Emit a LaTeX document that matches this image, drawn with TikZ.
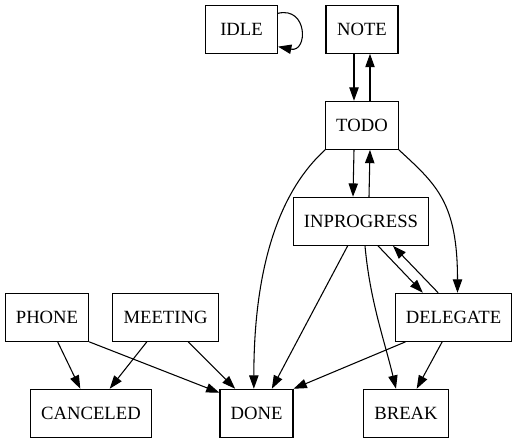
\documentclass[tikz,border=0pt]{standalone}
\usepackage{fontspec}
\setmainfont{Liberation Serif}
\usepackage{tikz}
\usetikzlibrary{arrows.meta}

\begin{document}
\begin{tikzpicture}[x=0.75pt, y=-0.75pt,
    state/.style={draw, rectangle, line width=0.8pt, minimum width=54pt,
      minimum height=36pt, inner xsep=7.92pt, font=\fontsize{14}{16}\selectfont},
    trans/.style={-{Triangle[length=10pt,width=7pt]}, line width=0.8pt}]
  \useasboundingbox (0,0) rectangle (518,443);
  \node[state] (idle)       at (241.5,29.3) {IDLE};
  \node[state] (note)       at (362,29.3)   {NOTE};
  \node[state] (todo)       at (362,125.3)  {TODO};
  \node[state] (inprogress) at (361,221.3)  {INPROGRESS};
  \node[state] (phone)      at (47,317.3)   {PHONE};
  \node[state] (meeting)    at (165.5,317.3) {MEETING};
  \node[state] (delegate)   at (453.5,317.3) {DELEGATE};
  \node[state] (canceled)   at (91,413.3)   {CANCELED};
  \node[state] (done)       at (256.5,413.3) {DONE};
  \node[state] (break)      at (406,413.3)  {BREAK};
  \path[trans]
    ([xshift=-6pt]note.south) edge ([xshift=-6pt]todo.north)
    ([xshift=6pt]todo.north) edge ([xshift=6pt]note.south)
    ([xshift=-6pt]todo.south) edge ([xshift=-6pt]inprogress.north)
    ([xshift=6pt]inprogress.north) edge ([xshift=6pt]todo.south)
    ([xshift=-10pt]inprogress.south) edge ([xshift=11.5pt]done.north)
    ([xshift=12.75pt]inprogress.south) edge ([xshift=-23pt]delegate.north)
    ([xshift=-11.5pt]delegate.north) edge ([xshift=24pt]inprogress.south)
    ([xshift=8pt]phone.south) edge ([xshift=-8pt]canceled.north)
    (phone.south east) edge ([yshift=-3pt]done.north west)
    ([xshift=-14pt]meeting.south) edge ([xshift=14pt]canceled.north)
    ([xshift=17pt]meeting.south) edge ([xshift=-16pt]done.north)
    ([xshift=-36pt]delegate.south) edge (done.north east)
    ([xshift=-8.5pt]delegate.south) edge ([xshift=8pt]break.north);
  % curved ones
  \draw[trans] ([yshift=12pt]idle.east) .. controls +(30,-7) and +(30,6) .. ([yshift=-13pt]idle.east);
  \draw[trans] (todo.south west) .. controls +(-42,38) and +(0,-130) .. ([xshift=-2pt]done.north);
  \draw[trans] (todo.south east) .. controls +(38,35) and +(0,-90) .. ([xshift=3pt]delegate.north);
  \draw[trans] ([xshift=3pt]inprogress.south) .. controls +(5,55) and +(-12,-50) .. ([xshift=-7.5pt]break.north);
\end{tikzpicture}
\end{document}
